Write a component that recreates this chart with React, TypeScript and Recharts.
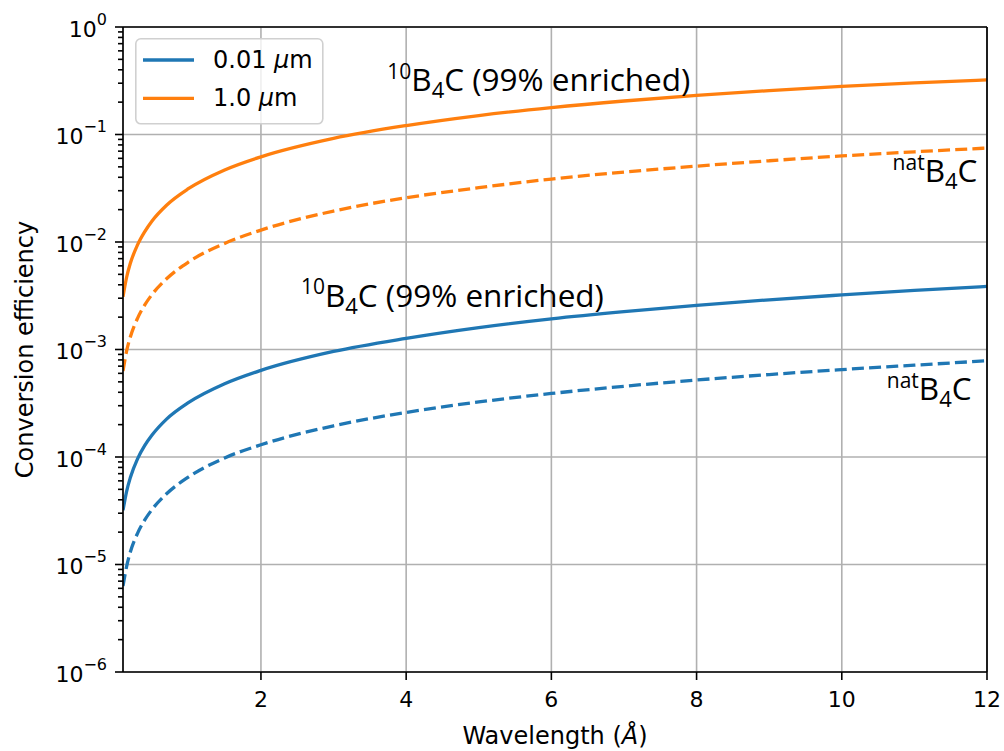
import React from "react";
import {
  LineChart,
  Line,
  XAxis,
  YAxis,
  CartesianGrid,
  ReferenceLine,
  ReferenceDot,
  Legend,
} from "recharts";

// Wavelength (Å)
const wavelengths = [0.1, 0.15, 0.2, 0.3, 0.4, 0.5, 0.7, 1, 1.5, 2, 3, 4, 5, 6, 7, 8, 9, 10, 11, 12];
// 0.01 µm, 10B4C enriched
const thinEnriched = [3.2e-5, 4.8e-5, 6.4e-5, 9.6e-5, 1.28e-4, 1.6e-4, 2.25e-4, 3.2e-4, 4.8e-4, 6.4e-4, 9.6e-4, 1.27e-3, 1.6e-3, 1.93e-3, 2.25e-3, 2.57e-3, 2.9e-3, 3.22e-3, 3.55e-3, 3.86e-3];
// 0.01 µm, natB4C
const thinNat = [6.3e-6, 9.6e-6, 1.3e-5, 1.95e-5, 2.6e-5, 3.25e-5, 4.55e-5, 6.5e-5, 9.8e-5, 1.3e-4, 1.95e-4, 2.6e-4, 3.25e-4, 3.9e-4, 4.55e-4, 5.2e-4, 5.85e-4, 6.5e-4, 7.15e-4, 7.85e-4];
// 1.0 µm, 10B4C enriched
const thickEnriched = [3.1e-3, 4.7e-3, 6.3e-3, 9.4e-3, 0.0125, 0.0157, 0.022, 0.0313, 0.0468, 0.062, 0.092, 0.121, 0.15, 0.178, 0.205, 0.231, 0.256, 0.28, 0.302, 0.322];
// 1.0 µm, natB4C
const thickNat = [6.3e-4, 9.7e-4, 1.3e-3, 1.95e-3, 2.6e-3, 3.25e-3, 4.55e-3, 6.5e-3, 9.7e-3, 0.0129, 0.0194, 0.0258, 0.032, 0.0385, 0.0447, 0.0508, 0.057, 0.0632, 0.069, 0.0748];

const xTicks = [2, 4, 6, 8, 10, 12];
const yMajor = [1e-6, 1e-5, 1e-4, 1e-3, 1e-2, 1e-1, 1];
const yAllTicks: number[] = [];
for (let d = -6; d < 0; d++) {
  for (let m = 1; m <= 9; m++) yAllTicks.push(m * Math.pow(10, d));
}
yAllTicks.push(1);

// annotations: [x, y, prefix superscript]
const annoX = [3.74, 2.55, 10.7, 10.62];
const annoY = [0.252, 2.5e-3, 0.0361, 3.37e-4];
const annoSup = ["10", "10", "nat", "nat"];
const annoTail = [" (99% enriched)", " (99% enriched)", "", ""];

const data = wavelengths.map((l, i) => ({
  lam: l,
  thinE: thinEnriched[i],
  thinN: thinNat[i],
  thickE: thickEnriched[i],
  thickN: thickNat[i],
}));

const BLUE = "#1f77b4";
const ORANGE = "#ff7f0e";
const FONT = "'DejaVu Sans', sans-serif";

const YTick = (props: any) => {
  const { x, y, payload } = props;
  const v = payload.value;
  const lg = Math.log10(v);
  const e = Math.round(lg);
  const major = Math.abs(lg - e) < 1e-6;
  return (
    <g>
      <line x1={x} x2={x - (major ? 8 : 5)} y1={y} y2={y} stroke="#000" strokeWidth={1.6} />
      {major && (
        <text x={x - 16} y={y + 9.5} textAnchor="end" fontFamily={FONT} fontSize={22} fill="#000">
          10
          <tspan dy={-12} fontSize={16}>
            {e < 0 ? `\u2212${-e}` : `${e}`}
          </tspan>
        </text>
      )}
    </g>
  );
};

const XTick = (props: any) => {
  const { x, y, payload } = props;
  return (
    <g>
      <line x1={x} x2={x} y1={y} y2={y + 8} stroke="#000" strokeWidth={1.6} />
      <text x={x} y={y + 35} textAnchor="middle" fontFamily={FONT} fontSize={22} fill="#000">
        {payload.value}
      </text>
    </g>
  );
};

const makeAnno = (i: number) => (props: any) => {
  const { cx, cy } = props;
  return (
    <text x={cx} y={cy} fontFamily="'Open Sans', Lato, sans-serif" fontSize={31.5} fill="#000">
      <tspan fontSize={21} dy={-12.5}>
        {annoSup[i]}
      </tspan>
      <tspan dy={12.5}>B</tspan>
      <tspan fontSize={22} dy={7}>
        4
      </tspan>
      <tspan dy={-7}>{"C" + annoTail[i]}</tspan>
    </text>
  );
};

const LegendBox = (props: any) => {
  const payload = (props.payload || []).filter((p: any) => p.type !== "none");
  return (
    <svg width={190} height={88} style={{ display: "block" }}>
      <rect x={0.8} y={0.8} width={187} height={85} rx={5} ry={5} fill="rgba(255,255,255,0.8)" stroke="#d0d0d0" strokeWidth={1.6} />
      {payload.map((p: any, i: number) => {
        const name: string = p.value;
        const parts = name.split("\u03bc");
        const ly = 22 + i * 38.3;
        return (
          <g key={i}>
            <line x1={8} x2={59} y1={ly} y2={ly} stroke={p.color} strokeWidth={3.3} />
            <text x={78} y={ly + 7.5} fontFamily={FONT} fontSize={24} fill="#000">
              {parts[0]}
              <tspan fontStyle="italic">{"\u03bc"}</tspan>
              {parts[1]}
            </text>
          </g>
        );
      })}
    </svg>
  );
};

const XLabel = (props: any) => {
  const vb = props.viewBox || { x: 123, y: 672, width: 864, height: 79 };
  return (
    <text x={vb.x + vb.width / 2} y={vb.y + 72} textAnchor="middle" fontFamily={FONT} fontSize={24} fill="#000">
      Wavelength (<tspan fontStyle="italic">Å</tspan>)
    </text>
  );
};

const YLabel = (props: any) => {
  const vb = props.viewBox || { x: 0, y: 27, width: 123, height: 645 };
  const cx = 33;
  const cy = vb.y + vb.height / 2;
  return (
    <text x={cx} y={cy} transform={`rotate(-90 ${cx} ${cy})`} textAnchor="middle" fontFamily={FONT} fontSize={24} fill="#000">
      Conversion efficiency
    </text>
  );
};

export default function App() {
  return (
    <div style={{ position: "absolute", left: 0, top: 0, width: 1004, height: 751, background: "#fff" }}>
      <LineChart width={1004} height={751} data={data} margin={{ top: 27, right: 17, bottom: 0, left: 0 }}>
        <CartesianGrid
          stroke="#b0b0b0"
          strokeWidth={1.6}
          horizontalValues={yMajor}
          verticalValues={xTicks}
        />
        <XAxis
          dataKey="lam"
          type="number"
          domain={[0.1, 12]}
          ticks={xTicks}
          allowDataOverflow
          interval={0}
          height={79}
          tickSize={0}
          tickMargin={0}
          tickLine={false}
          tick={<XTick />}
          axisLine={{ stroke: "#000", strokeWidth: 1.7 }}
          label={<XLabel />}
        />
        <YAxis
          scale="log"
          type="number"
          domain={[1e-6, 1]}
          ticks={yAllTicks}
          allowDataOverflow
          interval={0}
          width={123}
          tickSize={0}
          tickMargin={0}
          tickLine={false}
          tick={<YTick />}
          axisLine={{ stroke: "#000", strokeWidth: 1.7 }}
          label={<YLabel />}
        />
        <Line name={"0.01 \u03bcm"} dataKey="thinE" type="monotone" stroke={BLUE} strokeWidth={3.3} dot={false} isAnimationActive={false} />
        <Line name={"1.0 \u03bcm"} dataKey="thickE" type="monotone" stroke={ORANGE} strokeWidth={3.3} dot={false} isAnimationActive={false} />
        <Line name="thinNat" dataKey="thinN" type="monotone" stroke={BLUE} strokeWidth={3.3} strokeDasharray="12 5.2" dot={false} legendType="none" isAnimationActive={false} />
        <Line name="thickNat" dataKey="thickN" type="monotone" stroke={ORANGE} strokeWidth={3.3} strokeDasharray="12 5.2" dot={false} legendType="none" isAnimationActive={false} />
        <ReferenceLine y={1} stroke="#000" strokeWidth={1.7} />
        <ReferenceLine x={12} stroke="#000" strokeWidth={1.7} />
        {annoX.map((ax, i) => (
          <ReferenceDot key={i} x={ax} y={annoY[i]} r={0} shape={makeAnno(i)} />
        ))}
        <Legend
          layout="vertical"
          align="center"
          verticalAlign="middle"
          content={<LegendBox />}
          wrapperStyle={{ position: "absolute", left: 135, top: 38, width: 190, height: 88 }}
        />
      </LineChart>
    </div>
  );
}
